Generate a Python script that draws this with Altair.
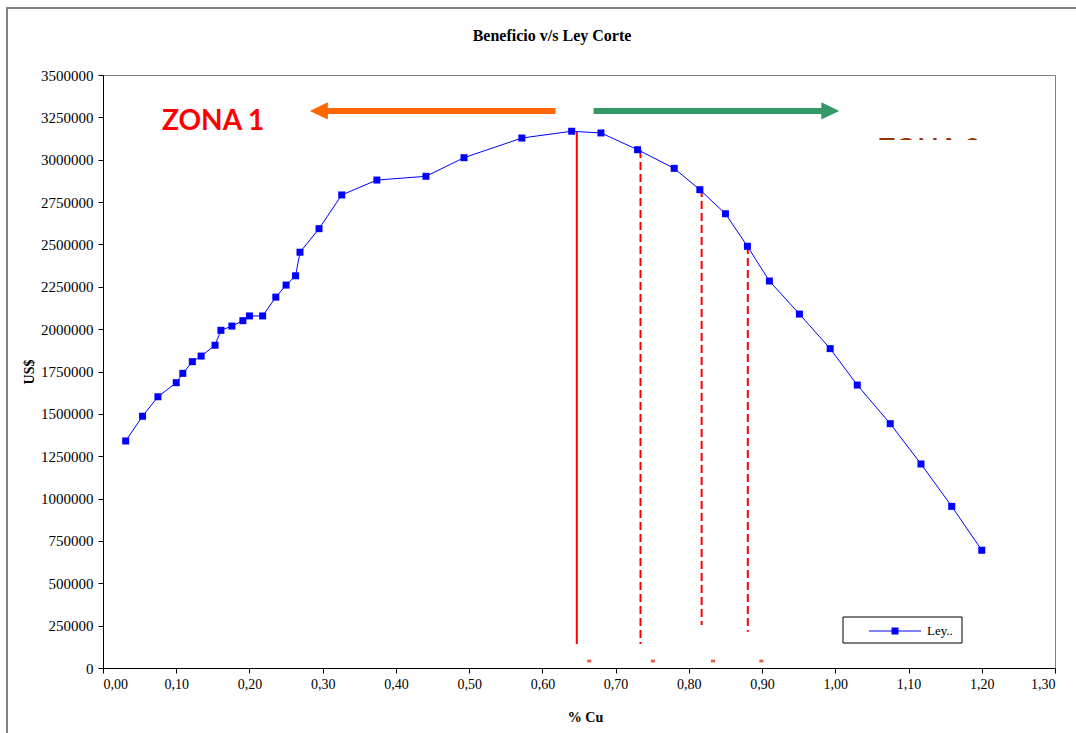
import altair as alt
import pandas as pd

# ---------------- data ----------------
ley_cu = [0.031, 0.054, 0.075, 0.100, 0.109, 0.122, 0.134, 0.153, 0.161, 0.176,
          0.191, 0.200, 0.218, 0.236, 0.250, 0.263, 0.269, 0.295, 0.326, 0.374,
          0.441, 0.493, 0.572, 0.640, 0.680, 0.730, 0.780, 0.815, 0.850, 0.880,
          0.910, 0.951, 0.993, 1.030, 1.075, 1.117, 1.159, 1.200]
beneficio = [1340000, 1486000, 1601000, 1684000, 1739000, 1808000, 1841000, 1905000, 1993000, 2018000,
             2050000, 2078000, 2078000, 2189000, 2260000, 2315000, 2454000, 2593000, 2792000, 2880000,
             2902000, 3012000, 3128000, 3168000, 3158000, 3059000, 2949000, 2823000, 2681000, 2489000,
             2284000, 2089000, 1885000, 1670000, 1442000, 1204000, 954000, 695000]
series_name = "Ley.."

# red cut-off lines (x, top, bottom, dashed)
corte_x = [0.647, 0.734, 0.8175, 0.8805]
corte_top = [3168000, 3057000, 2827000, 2491000]
corte_bottom = [141000, 141000, 254000, 214000]
corte_dash = ["solid", "dash", "dash", "dash"]

# small marks near the axis
marca_x = [0.664, 0.751, 0.833, 0.899]
marca_y = [41000, 41000, 41000, 41000]

# zone arrows
flecha_y = 3288000
flecha_zona1 = [0.300, 0.618]   # shaft from head to tail
cabeza_zona1 = 0.2947
flecha_zona2 = [0.670, 0.993]
cabeza_zona2 = 0.9932
zona_labels = ["ZONA 1", "ZONA 2"]
zona_x = [0.0805, 1.0586]
zona_y = [3222000, 3136000]

y_ticks = list(range(0, 3500001, 250000))
x_ticks = [round(i * 0.1, 1) for i in range(14)]

W, H = 952, 593
PAD_L, PAD_T = 103, 75

df = pd.DataFrame({"cu": ley_cu, "ben": beneficio, "serie": series_name})
df_corte = pd.DataFrame({"x": corte_x, "top": corte_top, "bot": corte_bottom, "dash": corte_dash})
df_marca = pd.DataFrame({"x": marca_x, "y": marca_y})

xs = alt.Scale(domain=[0, 1.3], nice=False, zero=False)
ys = alt.Scale(domain=[0, 3500000], nice=False)

X = lambda f: alt.X(f, type="quantitative", scale=xs, title="% Cu",
                    axis=alt.Axis(values=x_ticks, grid=False,
                                  labelExpr="replace(format(datum.value, '.2f'), '.', ',')",
                                  tickSize=5, labelPadding=4, domainColor="black", labelFontSize=14,
                                  tickColor="black", titleX=482, titleY=49,
                                  titleBaseline="middle", titleAnchor="middle"))
Y = lambda f: alt.Y(f, type="quantitative", scale=ys, title="US$",
                    axis=alt.Axis(values=y_ticks, grid=False, format="d",
                                  tickSize=5, labelPadding=5, domainColor="black", labelFontSize=15,
                                  tickColor="black", titleX=-74, titleY=H / 2,
                                  titleAngle=270, titleBaseline="middle"))

# outer chart frame (decoration)
frame = alt.Chart(pd.DataFrame({"a": [0]})).mark_rect(
    fill="white", fillOpacity=0, stroke="#808080", strokeWidth=2
).encode(x=alt.value(-96), x2=alt.value(1300), y=alt.value(-67), y2=alt.value(900))

# zone labels
zona1 = alt.Chart(pd.DataFrame({"x": [zona_x[0]], "y": [zona_y[0]], "t": [zona_labels[0]]})).mark_text(
    font="Lato", fontWeight="bold", fontSize=28, color="#ff0000", align="left", baseline="middle"
).encode(x=X("x"), y=Y("y"), text="t:N")

zona2 = alt.Chart(pd.DataFrame({"x": [zona_x[1]], "y": [zona_y[1]], "t": [zona_labels[1]]})).mark_text(
    font="Lato", fontWeight="bold", fontSize=28, color="#993300", align="left", baseline="top"
).encode(x=X("x"), y=Y("y"), text="t:N")

cover = alt.Chart(pd.DataFrame({"x": [0.90], "x2": [1.28], "y": [3116000], "y2": [2900000]})).mark_rect(
    fill="white"
).encode(x=X("x"), x2="x2", y=Y("y"), y2="y2")

# arrows
shaft = alt.Chart(pd.DataFrame({
    "x": [flecha_zona1[0], flecha_zona2[0]], "x2": [flecha_zona1[1], flecha_zona2[1]],
    "y": [flecha_y, flecha_y], "c": ["z1", "z2"]})).mark_rule(strokeWidth=6, strokeCap="butt").encode(
    x=X("x"), x2="x2", y=Y("y"),
    color=alt.Color("c:N", scale=alt.Scale(domain=["z1", "z2"], range=["#ff6600", "#339966"]), legend=None))

head1 = alt.Chart(pd.DataFrame({"x": [cabeza_zona1], "y": [flecha_y]})).mark_point(
    shape="M1,-0.95L-1,0L1,0.95Z", filled=True, size=324, color="#ff6600", opacity=1
).encode(x=X("x"), y=Y("y"))
head2 = alt.Chart(pd.DataFrame({"x": [cabeza_zona2], "y": [flecha_y]})).mark_point(
    shape="M-1,-0.95L1,0L-1,0.95Z", filled=True, size=324, color="#339966", opacity=1
).encode(x=X("x"), y=Y("y"))

# red cut-off lines
corte_solid = alt.Chart(df_corte[df_corte["dash"] == "solid"]).mark_rule(
    color="#ff0000", strokeWidth=2).encode(x=X("x"), y=Y("top"), y2="bot")
corte_dashed = alt.Chart(df_corte[df_corte["dash"] == "dash"]).mark_rule(
    color="#ff0000", strokeWidth=2, strokeDash=[8, 4]).encode(x=X("x"), y=Y("top"), y2="bot")

marcas = alt.Chart(df_marca).mark_point(
    shape="M-1,-0.7L1,-0.7L1,0.7L-1,0.7Z", filled=True, size=16, color="#e0604a", opacity=1
).encode(x=X("x"), y=Y("y"))

# data series
linea = alt.Chart(df).mark_line(color="#0000ff", strokeWidth=1).encode(x=X("cu"), y=Y("ben"))
puntos = alt.Chart(df).mark_point(shape="square", filled=True, size=49, color="#0000ff", opacity=1).encode(
    x=X("cu"), y=Y("ben"))

# legend (decoration)
one = pd.DataFrame({"t": [series_name]})
leg_box = alt.Chart(one).mark_rect(fill="white", stroke="black", strokeWidth=1).encode(
    x=alt.value(740), x2=alt.value(859), y=alt.value(542), y2=alt.value(568))
leg_line = alt.Chart(one).mark_rule(color="#0000ff", strokeWidth=1).encode(
    x=alt.value(766), x2=alt.value(818), y=alt.value(556))
leg_pt = alt.Chart(one).mark_point(shape="square", filled=True, size=49, color="#0000ff", opacity=1).encode(
    x=alt.value(792), y=alt.value(556))
leg_txt = alt.Chart(one).mark_text(font="Liberation Serif", fontSize=13, align="left", baseline="middle",
                                   color="black").encode(x=alt.value(824), y=alt.value(556), text="t:N")

chart = alt.layer(
    frame, zona2, cover, zona1, shaft, head1, head2, corte_solid, corte_dashed, marcas,
    linea, puntos, leg_box, leg_line, leg_pt, leg_txt
).properties(
    width=W, height=H,
    title=alt.TitleParams("Beneficio v/s Ley Corte", font="Liberation Serif", fontSize=16,
                          fontWeight="bold", color="black", anchor="middle", dx=-27, offset=-37),
    padding={"left": PAD_L, "top": PAD_T, "right": 1076 - PAD_L - W, "bottom": 733 - PAD_T - H},
    autosize=alt.AutoSizeParams(type="none"),
    background="white",
).configure_view(
    stroke="#808080", strokeWidth=1
).configure_axis(
    labelFont="Liberation Serif", labelColor="black",
    titleFont="Liberation Serif", titleFontSize=14, titleFontWeight="bold", titleColor="black",
    domainWidth=1, tickWidth=1
)

chart.save("out.html", embed_options={"renderer": "svg", "actions": False})
